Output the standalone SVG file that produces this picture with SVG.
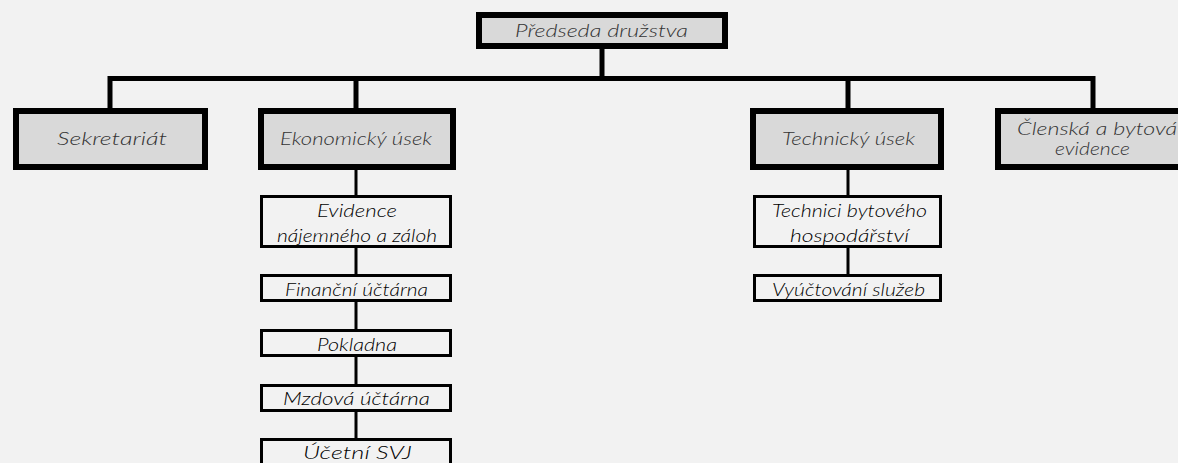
<svg xmlns="http://www.w3.org/2000/svg" width="1178" height="463" viewBox="0 0 1178 463">
<style>
.bg{fill:#f2f2f2}
.main{fill:#d9d9d9;stroke:#000;stroke-width:6}
.sub{fill:#f2f2f2;stroke:#000;stroke-width:3}
.thick{fill:none;stroke:#000;stroke-width:5}
.thin{fill:none;stroke:#000;stroke-width:3}
text{font-family:"Lato","DejaVu Sans",sans-serif;font-style:italic;font-weight:300;font-size:17px;text-anchor:middle}
.mt{fill:#333}
.st{fill:#000}
</style>
<rect class="bg" x="0" y="0" width="1178" height="463"/>
<g id="connectors">
<path class="thick" d="M602 49V78.5M107.5 78.5H1095.5M110 78.5V108M356 78.5V108M848 78.5V108M1093 78.5V108"/>
<path class="thin" d="M356 170V438M848 170V274"/>
</g>
<g id="predseda"><rect class="main" x="479" y="15" width="246" height="31"/><text class="mt" x="601.5" y="37" textLength="173" lengthAdjust="spacingAndGlyphs">Předseda družstva</text></g>
<g id="sekretariat"><rect class="main" x="16" y="111" width="189" height="56"/><text class="mt" x="112" y="145" textLength="110" lengthAdjust="spacingAndGlyphs">Sekretariát</text></g>
<g id="ekonomicky"><rect class="main" x="261" y="111" width="192" height="56"/><text class="mt" x="356" y="145" textLength="152" lengthAdjust="spacingAndGlyphs">Ekonomický úsek</text></g>
<g id="technicky"><rect class="main" x="753" y="111" width="188" height="56"/><text class="mt" x="848.5" y="145" textLength="133" lengthAdjust="spacingAndGlyphs">Technický úsek</text></g>
<g id="clenska"><rect class="main" x="998" y="111" width="192" height="56"/><text class="mt" x="1097" y="135" textLength="160" lengthAdjust="spacingAndGlyphs">Členská a bytová</text><text class="mt" x="1092.5" y="155" textLength="75" lengthAdjust="spacingAndGlyphs">evidence</text></g>
<g id="evidence"><rect class="sub" x="261.5" y="196.5" width="189" height="50"/><text class="st" x="357" y="217" textLength="80" lengthAdjust="spacingAndGlyphs">Evidence</text><text class="st" x="357" y="242" textLength="160" lengthAdjust="spacingAndGlyphs">nájemného a záloh</text></g>
<g id="financni"><rect class="sub" x="261.5" y="275.5" width="189" height="25"/><text class="st" x="356.5" y="296" textLength="143" lengthAdjust="spacingAndGlyphs">Finanční účtárna</text></g>
<g id="pokladna"><rect class="sub" x="261.5" y="330.5" width="189" height="25"/><text class="st" x="357" y="351" textLength="80" lengthAdjust="spacingAndGlyphs">Pokladna</text></g>
<g id="mzdova"><rect class="sub" x="261.5" y="385.5" width="189" height="25"/><text class="st" x="356.5" y="405" textLength="147" lengthAdjust="spacingAndGlyphs">Mzdová účtárna</text></g>
<g id="ucetni"><rect class="sub" x="261.5" y="439.5" width="189" height="25"/><text class="st" x="357.5" y="459" textLength="109" lengthAdjust="spacingAndGlyphs">Účetní SVJ</text></g>
<g id="technici"><rect class="sub" x="754.5" y="196.5" width="186" height="50"/><text class="st" x="849.5" y="217" textLength="155" lengthAdjust="spacingAndGlyphs">Technici bytového</text><text class="st" x="849.5" y="242" textLength="119" lengthAdjust="spacingAndGlyphs">hospodářství</text></g>
<g id="vyuctovani"><rect class="sub" x="754.5" y="275.5" width="186" height="25"/><text class="st" x="848.5" y="296" textLength="153" lengthAdjust="spacingAndGlyphs">Vyúčtování služeb</text></g>
</svg>
